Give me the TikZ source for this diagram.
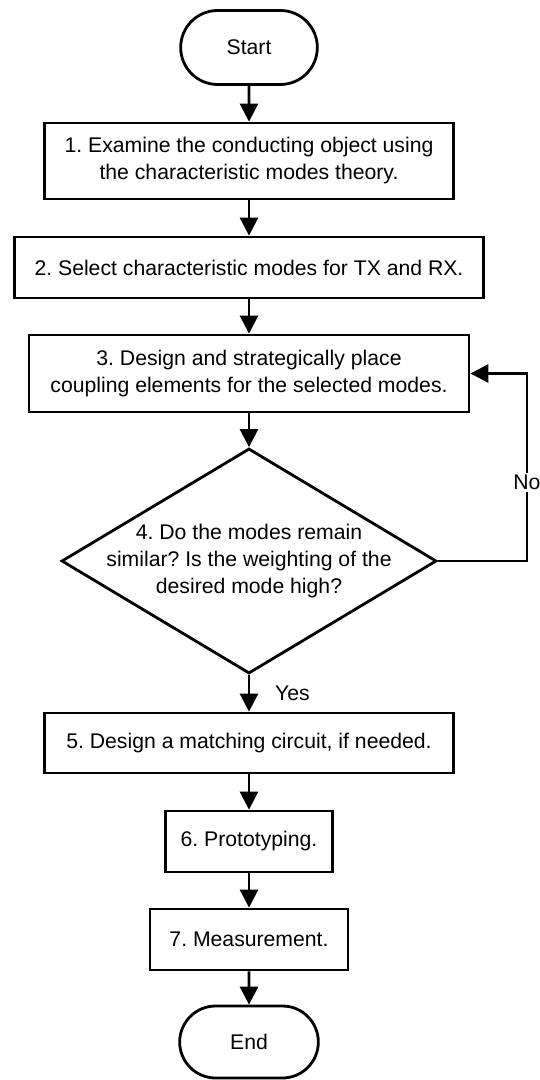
\documentclass[tikz,border=0pt]{standalone}
\usepackage{fontspec}
\setmainfont{Liberation Sans}
\usepackage{tikz}
\usetikzlibrary{arrows.meta,positioning,shapes.geometric,shapes.misc}
\frenchspacing

\begin{document}
\begin{tikzpicture}[
  line width=1.4pt,
  every node/.style={font=\fontsize{10.6}{13.5}\selectfont},
  box/.style={draw,rectangle,minimum height=30pt,align=center,inner sep=2pt},
  terminal/.style={draw,rounded rectangle,minimum width=75pt,minimum height=37pt},
  decision/.style={draw,diamond,minimum width=187.5pt,minimum height=112.5pt,inner sep=0pt},
  arrow/.style={-{Triangle[length=9pt,width=9pt]}}
]
  \useasboundingbox (0,0) rectangle (270pt,-540pt);
  \node[terminal] (start) at (124.5pt,-23.75pt) {Start};
  \node[box,minimum width=204.5pt,minimum height=38pt] (examine) at (124.5pt,-80.5pt) {1. Examine the conducting object using\\the characteristic modes theory.};
  \node[box,minimum width=234.5pt,minimum height=30.5pt] (select) at (124.5pt,-133.75pt) {2. Select characteristic modes for TX and RX.};
  \node[box,minimum width=220pt,minimum height=38.5pt] (design) at (124.5pt,-186.75pt) {3. Design and strategically place\\coupling elements for the selected modes.};
  \node[decision] (check) at (124.5pt,-280.5pt) {};
  \node[align=center] (checktext) at (check) {4. Do the modes remain\\similar? Is the weighting of the\\desired mode high?};
  \node[box,minimum width=204.5pt] (matching) at (124.5pt,-371.5pt) {5. Design a matching circuit, if needed.};
  \node[box,minimum width=83.5pt,minimum height=30.5pt] (proto) at (124.5pt,-420.75pt) {6. Prototyping.};
  \node[box,minimum width=99pt,minimum height=30.5pt] (measure) at (124.5pt,-469.75pt) {7. Measurement.};
  \node[terminal,minimum width=76pt,minimum height=36pt] (end) at (124.5pt,-521pt) {End};

  \draw[arrow] (start) -- (examine);
  \draw[arrow] (examine) -- (select);
  \draw[arrow] (select) -- (design);
  \draw[arrow] (design) -- (check);
  \draw[arrow] (check) -- node[midway,right=9pt]{Yes} (matching);
  \draw[arrow] (matching) -- (proto);
  \draw[arrow] (proto) -- (measure);
  \draw[arrow] (measure) -- (end);
  % loop back when the check fails
  \draw[arrow] (check.east) -- ++(44.5pt,0) coordinate (turn) |- node[pos=0.21,fill=white,inner sep=1pt]{No} (design.east);
\end{tikzpicture}
\end{document}
